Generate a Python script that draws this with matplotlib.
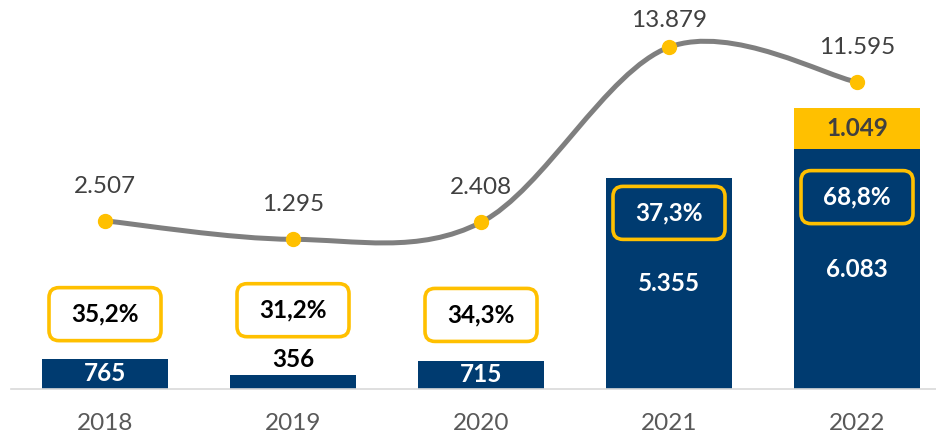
import numpy as np
import matplotlib.pyplot as plt
from matplotlib.path import Path
from matplotlib.patches import PathPatch, FancyBboxPatch
from matplotlib.transforms import IdentityTransform

plt.rcParams['font.family'] = ['Lato', 'DejaVu Sans']

# data
years = ['2018', '2019', '2020', '2021', '2022']
base_values = [765, 356, 715, 5355, 6083]
extra_values = [0, 0, 0, 0, 1049]
line_values = [2507, 1295, 2408, 13879, 11595]
pct_labels = ['35,2%', '31,2%', '34,3%', '37,3%', '68,8%']
pct_label_y = [1900, 2000, 1880, 4470, 4870]   # where the boxes sit (primary units)

NAVY = '#003B70'
YELLOW = '#FFC000'
GREY_LINE = '#7F7F7F'
DARK_TEXT = '#404040'
FS = 17.5


def fmt(v):
  return f'{v:,}'.replace(',', '.')


def smooth_path(xs, ys):
  # excel style smoothing: catmull-rom segments as cubic beziers
  pts = np.column_stack([xs, ys]).astype(float)
  padded = np.vstack([pts[0], pts, pts[-1]])
  verts = [pts[0]]
  codes = [Path.MOVETO]
  for i in range(len(pts) - 1):
    p0, p1, p2, p3 = padded[i], padded[i + 1], padded[i + 2], padded[i + 3]
    c1 = p1 + (p2 - p0) / 6.0
    c2 = p2 - (p3 - p1) / 6.0
    verts += [c1, c2, p2]
    codes += [Path.CURVE4] * 3
  return Path(verts, codes)


def main():

  fig = plt.figure(figsize=(9.37, 4.34), dpi=100)
  ax = fig.add_axes([11 / 937, 45 / 434, 940 / 937, 389 / 434])
  x = np.arange(len(years))

  # bars
  ax.bar(x, base_values, width=0.665, color=NAVY, zorder=2)
  ax.bar(x, extra_values, width=0.665, bottom=base_values, color=YELLOW, zorder=2)
  ax.set_xlim(-0.5, 4.5)
  ax.set_ylim(0, 9873)

  for i, v in enumerate(base_values):
    if v < 500:
      ax.annotate(fmt(v), (i, v), xytext=(0, 11), textcoords='offset points',
                  ha='center', va='center', fontsize=FS, fontweight='bold', color='black')
    else:
      ax.text(i, v / 2, fmt(v), ha='center', va='center', fontsize=FS,
              fontweight='bold', color='white', zorder=3)
  for i, v in enumerate(extra_values):
    if v > 0:
      ax.text(i, base_values[i] + v / 2, fmt(v), ha='center', va='center',
              fontsize=FS, fontweight='bold', color=DARK_TEXT, zorder=3)

  ax.set_xticks(x)
  ax.set_xticklabels(years, fontsize=FS, color='#595959')
  ax.tick_params(axis='x', length=0, pad=17)
  ax.set_yticks([])
  for side in ['top', 'left', 'right']:
    ax.spines[side].set_visible(False)
  ax.spines['bottom'].set_color('#D9D9D9')
  ax.spines['bottom'].set_linewidth(1.2)

  # percentage boxes (drawn in pixel space so the corners stay round)
  fig.canvas.draw()
  for i, (lab, yv) in enumerate(zip(pct_labels, pct_label_y)):
    cx, cy = ax.transData.transform((i, yv))
    w, h = 112, 53
    inside_bar = yv < base_values[i]
    face = NAVY if inside_bar else 'white'
    box = FancyBboxPatch((cx - w / 2, cy - h / 2), w, h,
                         boxstyle='round,pad=0,rounding_size=10',
                         transform=IdentityTransform(), facecolor=face,
                         edgecolor=YELLOW, linewidth=2.6, zorder=4)
    fig.add_artist(box)
    fig.text(cx / fig.bbox.width, cy / fig.bbox.height, lab, ha='center', va='center',
             fontsize=FS, fontweight='bold', color='white' if inside_bar else 'black', zorder=5)

  # line on secondary axis
  ax2 = ax.twinx()
  ax2.set_ylim(-8508, 16971)
  ax2.set_axis_off()
  curve = smooth_path(x, line_values)
  ax2.add_patch(PathPatch(curve, fill=False, edgecolor=GREY_LINE, linewidth=3.6,
                          capstyle='round', zorder=3))
  ax2.plot(x, line_values, 'o', color=YELLOW, markersize=10, zorder=4)
  label_offsets = [25, 25, 25, 19, 25]
  for i, v in enumerate(line_values):
    ax2.annotate(fmt(v), (i, v), xytext=(0, label_offsets[i]), textcoords='offset points',
                 ha='center', va='center', fontsize=FS, color=DARK_TEXT)

  plt.savefig('out.png', dpi=100)

if __name__ == "__main__":
  main()
